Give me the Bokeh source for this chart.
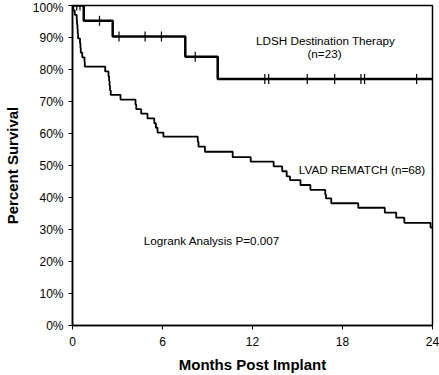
import math
from bokeh.plotting import figure
from bokeh.models import FixedTicker, PrintfTickFormatter, Label, Range1d
from bokeh.embed import file_html
from bokeh.resources import INLINE

# LDSH Destination Therapy (n=23): event times (months) and survival (%)
ldsh_t = [0, 0.75, 2.68, 7.52, 9.68]
ldsh_s = [100, 95.2, 90.3, 84.0, 77.0]
# censored observations
ldsh_cens_t = [0.28, 0.5, 1.8, 3.1, 4.84, 5.93, 8.18, 12.82, 13.08, 15.65, 17.48, 19.23, 19.47, 22.94]
ldsh_cens_s = [100, 100, 95.2, 90.3, 90.3, 90.3, 84.0, 77.0, 77.0, 77.0, 77.0, 77.0, 77.0, 77.0]

# LVAD REMATCH (n=68)
lvad_t = [0, 0.05, 0.15, 0.28, 0.3, 0.33, 0.35, 0.37, 0.5, 0.53, 0.55, 0.65, 0.8, 0.82,
          2.18, 2.40, 2.44, 2.47, 2.5, 2.55, 3.2, 4.2, 4.25, 4.58, 5.0, 5.45, 5.56, 5.67,
          6.06, 8.35, 8.4, 8.83, 10.68, 11.88, 13.41, 13.98, 14.28, 14.5, 15.2, 15.86,
          16.85, 16.9, 17.25, 19.05, 20.82, 21.58, 22.12, 23.87]
lvad_s = [100, 98.5, 97.1, 95.6, 94.1, 92.6, 91.2, 89.7, 88.2, 86.8, 85.3, 83.8, 82.4, 80.9,
          79.4, 77.9, 76.5, 75.0, 73.5, 72.1, 70.6, 69.1, 67.6, 66.2, 64.7, 63.2, 61.8, 60.3,
          59.0, 57.4, 55.9, 54.3, 52.6, 51.2, 49.7, 48.2, 46.6, 45.4, 43.9, 42.4,
          40.9, 39.7, 38.2, 36.8, 35.3, 33.7, 32.1, 30.6]

x_ticks = [0, 6, 12, 18, 24]
y_ticks = [0, 10, 20, 30, 40, 50, 60, 70, 80, 90, 100]
x_end = 24

FONT = "Liberation Sans"

p = figure(width=439, height=375, output_backend="svg", toolbar_location=None,
           x_range=Range1d(0, 24), y_range=Range1d(0, 100),
           min_border_left=65, min_border_right=7, min_border_top=5, min_border_bottom=49)
p.background_fill_color = "white"
p.border_fill_color = "white"
p.outline_line_color = "black"
p.outline_line_width = 1.5
p.xgrid.visible = False
p.ygrid.visible = False

for ax in (p.xaxis[0], p.yaxis[0]):
    ax.axis_line_color = "black"
    ax.axis_line_width = 1.5
    ax.major_tick_line_color = "black"
    ax.major_tick_line_width = 1
    ax.major_tick_out = 4
    ax.major_tick_in = 0
    ax.minor_tick_line_color = None
    ax.major_label_text_font = FONT
    ax.major_label_text_font_size = "12px"
    ax.major_label_text_color = "black"
    ax.axis_label_text_font = FONT
    ax.axis_label_text_font_style = "bold"
    ax.axis_label_text_font_size = "15px"
    ax.axis_label_text_color = "black"

p.xaxis.ticker = FixedTicker(ticks=x_ticks)
p.yaxis.ticker = FixedTicker(ticks=y_ticks)
p.yaxis.formatter = PrintfTickFormatter(format="%d%%")
p.xaxis.axis_label = "Months Post Implant"
p.yaxis.axis_label = "Percent Survival"
p.xaxis.major_label_standoff = 7
p.yaxis.major_label_standoff = 5
p.xaxis.axis_label_standoff = 7
p.yaxis.axis_label_standoff = 9

# curves
p.step(ldsh_t + [x_end], ldsh_s + [ldsh_s[-1]], mode="after", line_color="black", line_width=2.5)
p.step(lvad_t + [x_end], lvad_s + [lvad_s[-1]], mode="after", line_color="black", line_width=1.8)
p.scatter(ldsh_cens_t, ldsh_cens_s, marker="dash", angle=math.pi / 2, size=10,
          line_color="black", line_width=1.2)

def lab(x, y, t):
    p.add_layout(Label(x=x, y=y, text=t, text_font=FONT, text_font_size="11.7px",
                       text_color="black", text_align="center", text_baseline="middle"))

lab(16.87, 89.1, "LDSH Destination Therapy")
lab(16.8, 85.0, "(n=23)")
lab(19.3, 48.6, "LVAD REMATCH (n=68)")
lab(9.29, 26.5, "Logrank Analysis P=0.007")

open("out.html", "w").write(file_html(p, INLINE))
